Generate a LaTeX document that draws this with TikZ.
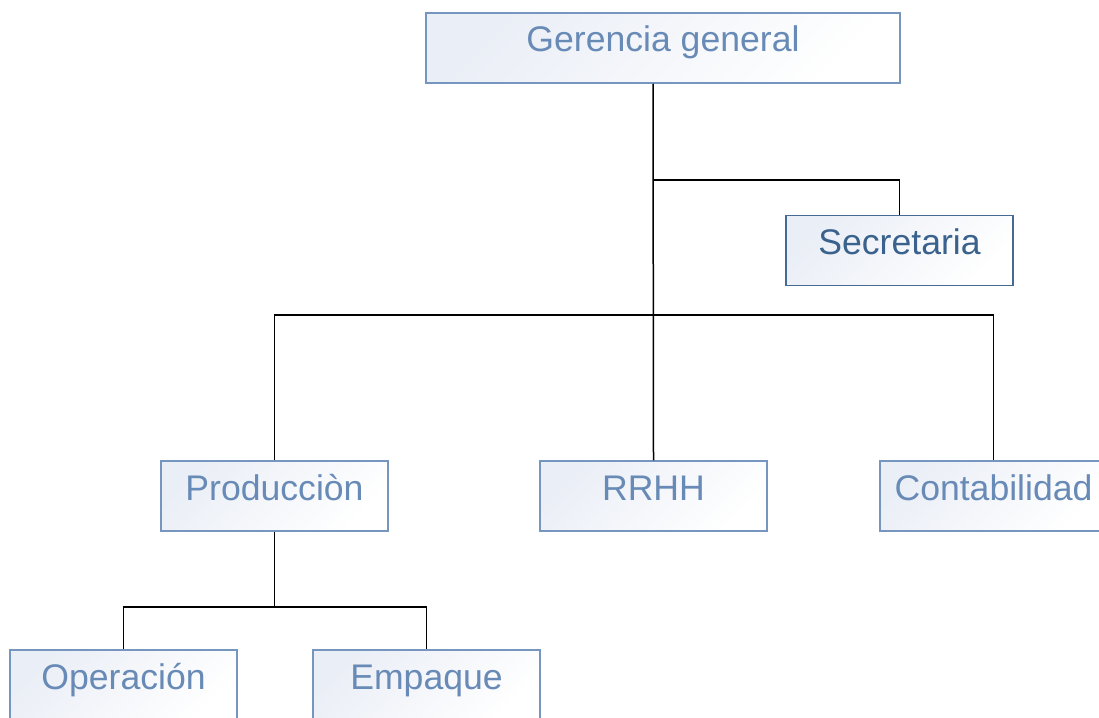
\documentclass[tikz,border=0pt]{standalone}
\usepackage{fontspec}
\setmainfont{Liberation Sans}
\usepackage{xcolor}
\usepackage{tikz}
\definecolor{unitline}{RGB}{118,150,192}
\definecolor{unittext}{RGB}{104,138,182}
\definecolor{secline}{RGB}{70,106,148}
\definecolor{sectext}{RGB}{58,98,140}
\definecolor{unitfill}{RGB}{234,238,246}
\tikzset{
  unit/.style={draw=unitline, line width=1.5pt, text=unittext,
    top color=unitfill, bottom color=white, shading angle=45,
    minimum width=227pt, inner xsep=0pt, inner ysep=0pt,
    text height=39pt, text depth=31pt,
    font=\fontsize{35.6}{40}\selectfont},
  conn/.style={line width=1.5pt, black}
}

\begin{document}
\begin{tikzpicture}[x=1pt, y=-1pt]
        \useasboundingbox (0,0) rectangle (1099,717);

        \coordinate (GerPos) at (663, 48);
        \coordinate (SecPos) at (899.5, 250.5);
        \coordinate (ProdPos) at (274.5, 496);
        \coordinate (RRHHPos) at (653.5, 496);
        \coordinate (ContPos) at (993.5, 496);
        \coordinate (OpPos) at (123.5, 685);
        \coordinate (EmpPos) at (426.5, 685);

        \coordinate (busSec) at (653, 180);
        \coordinate (busDep) at (653, 315);
        \coordinate (busProd) at (274.5, 607);

        \node[unit, minimum width=474pt] (Ger) at (GerPos) {Gerencia general};
        \node[unit, draw=secline, text=sectext] (Sec) at (SecPos) {Secretaria};

        \node[unit] (Prod) at (ProdPos) {Producciòn};
        \node[unit] (RRHH) at (RRHHPos) {RRHH};
        \node[unit] (Cont) at (ContPos) {Contabilidad};

        \node[unit] (Op) at (OpPos) {Operación};
        \node[unit] (Emp) at (EmpPos) {Empaque};

        \draw[conn] (busSec |- Ger.south) -- (RRHH.north);
        \draw[conn] (busSec) -| (Sec.north);
        \draw[conn] (Prod.north) |- (busDep) -| (Cont.north);
        \draw[conn] (Prod.south) -- (busProd);
        \draw[conn] (Op.north) |- (busProd) -| (Emp.north);
      \end{tikzpicture}
\end{document}
